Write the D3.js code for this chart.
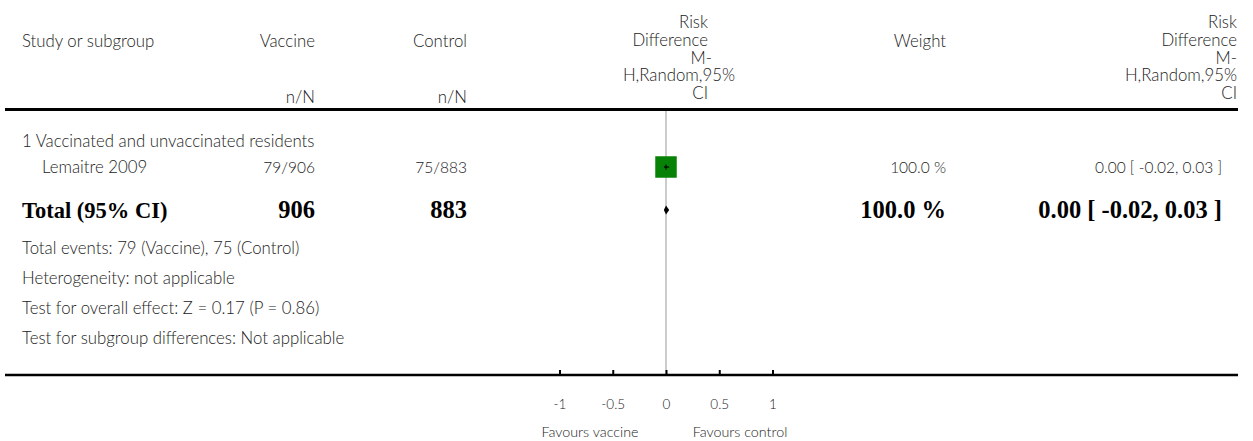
<!DOCTYPE html>
<html><head><meta charset="utf-8">
<script src="https://cdn.jsdelivr.net/npm/d3@7"></script>
<style>
body{margin:0;background:#fff;}
svg text{font-family:Lato,"Open Sans",sans-serif;fill:#222;font-weight:300;}
</style></head>
<body><svg id="chart" width="1253" height="441"></svg>
<script>
// ---- data ----
const studyNames    = ["Lemaitre 2009"];
const vaccineEvents = [79];
const vaccineTotals = [906];
const controlEvents = [75];
const controlTotals = [883];
const studyWeights  = [100.0];
const studyRD       = [0.00];
const studyLow      = [-0.02];
const studyHigh     = [0.03];

const subgroupLabel = "1 Vaccinated and unvaccinated residents";
const totalLabel = "Total (95% CI)";
const totalVaccine = 906;
const totalControl = 883;
const totalWeight = 100.0;
const totalRD = 0.00, totalLow = -0.02, totalHigh = 0.03;

const footerLines = [
  "Total events: 79 (Vaccine), 75 (Control)",
  "Heterogeneity: not applicable",
  "Test for overall effect: Z = 0.17 (P = 0.86)",
  "Test for subgroup differences: Not applicable"
];
const tickValues = [-1, -0.5, 0, 0.5, 1];
const tickLabels = ["-1", "-0.5", "0", "0.5", "1"];
const favourLabels = ["Favours vaccine", "Favours control"];
const rdHeaderLines = ["Risk", "Difference", "M-", "H,Random,95%", "CI"];

// ---- drawing ----
const svg = d3.select("#chart");
const x = d3.scaleLinear().domain([-1, 1]).range([559.5, 772.5]);
const fsText = 16.8, fsNum = 15.5, fsBold = 22.5, fsBoldNum = 24.5;
const loc = d3.formatLocale({decimal: ".", thousands: ",", grouping: [3], currency: ["", ""], minus: "-"});
const f2 = loc.format(".2f"), f1 = loc.format(".1f");
const ciText = (e, l, h) => `${f2(e)} [ ${f2(l)}, ${f2(h)} ]`;

function txt(s, xx, yy, anchor, size, bold) {
  const t = svg.append("text").attr("x", xx).attr("y", yy)
    .attr("text-anchor", anchor).style("font-size", size + "px").text(s);
  if (bold) t.style("font-family", "'Liberation Serif','Times New Roman',serif")
    .style("font-weight", "bold").style("fill", "#000");
  return t;
}

// header
txt("Study or subgroup", 22, 47, "start", fsText);
txt("Vaccine", 315, 47, "end", fsText);
txt("Control", 467, 47, "end", fsText);
txt("n/N", 315, 103, "end", fsText);
txt("n/N", 467, 103, "end", fsText);
txt("Weight", 946, 47, "end", fsText);
const midRight = [708, 708, 712, 735, 708];
rdHeaderLines.forEach((s, i) => {
  txt(s, midRight[i], 28 + i * 17.8, "end", fsText);
  txt(s, 1237, 28 + i * 17.8, "end", fsText);
});

// top rule
svg.append("line").attr("x1", 5).attr("x2", 1238).attr("y1", 109.5).attr("y2", 109.5)
  .attr("stroke", "#000").attr("stroke-width", 3);

// zero line
const yAxis = 375;
svg.append("line").attr("x1", x(0)).attr("x2", x(0)).attr("y1", 111).attr("y2", yAxis)
  .attr("stroke", "#aaa").attr("stroke-width", 1.2);

// subgroup header
txt(subgroupLabel, 22, 147, "start", fsText);

// study rows
const rowY = i => 167 + i * 26;
studyNames.forEach((nm, i) => {
  const yc = rowY(i);
  txt(nm, 42, yc + 6, "start", fsText);
  txt(`${vaccineEvents[i]}/${vaccineTotals[i]}`, 315, yc + 6, "end", fsNum);
  txt(`${controlEvents[i]}/${controlTotals[i]}`, 467, yc + 6, "end", fsNum);
  txt(`${f1(studyWeights[i])} %`, 946, yc + 6, "end", fsNum);
  txt(ciText(studyRD[i], studyLow[i], studyHigh[i]), 1222, yc + 6, "end", fsNum);
  const sz = 21.5 * Math.sqrt(studyWeights[i] / 100);
  svg.append("rect").attr("x", x(studyRD[i]) - sz / 2).attr("y", yc - sz / 2)
    .attr("width", sz).attr("height", sz).attr("fill", "#078207");
  svg.append("line").attr("x1", x(studyLow[i])).attr("x2", x(studyHigh[i]))
    .attr("y1", yc).attr("y2", yc).attr("stroke", "#000").attr("stroke-width", 1.2);
  svg.append("line").attr("x1", x(studyRD[i])).attr("x2", x(studyRD[i]))
    .attr("y1", yc - 2.5).attr("y2", yc + 2.5).attr("stroke", "#000").attr("stroke-width", 1.2);
});

// total row
const yT = 218;
txt(totalLabel, 22, yT, "start", fsBold, true);
txt(String(totalVaccine), 315, yT, "end", fsBoldNum, true);
txt(String(totalControl), 467, yT, "end", fsBoldNum, true);
txt(`${f1(totalWeight)} %`, 946, yT, "end", fsBoldNum, true);
txt(ciText(totalRD, totalLow, totalHigh), 1222, yT, "end", fsBoldNum, true);
const yD = 210;
svg.append("path")
  .attr("d", `M${x(totalLow)},${yD}L${x(totalRD)},${yD - 4.5}L${x(totalHigh)},${yD}L${x(totalRD)},${yD + 4.5}Z`)
  .attr("fill", "#000");

// footer
footerLines.forEach((s, i) => txt(s, 22, 254 + i * 30, "start", fsText));

// axis
const axis = d3.axisBottom(x).tickValues(tickValues)
  .tickFormat((d, i) => tickLabels[i]).tickSize(-5).tickPadding(24);
const g = svg.append("g").attr("transform", `translate(0,${yAxis})`).call(axis);
g.select(".domain").remove();
g.selectAll(".tick line").attr("stroke", "#000").attr("stroke-width", 2);
g.selectAll(".tick text").style("font-family", "Lato,sans-serif").style("font-weight", "300")
  .style("font-size", "13.5px").style("fill", "#222");
svg.append("line").attr("x1", 5).attr("x2", 1238).attr("y1", yAxis).attr("y2", yAxis)
  .attr("stroke", "#000").attr("stroke-width", 2.5);

txt(favourLabels[0], x(0) - 76, 437, "middle", 14.3);
txt(favourLabels[1], x(0) + 74, 437, "middle", 14.3);
</script></body></html>
